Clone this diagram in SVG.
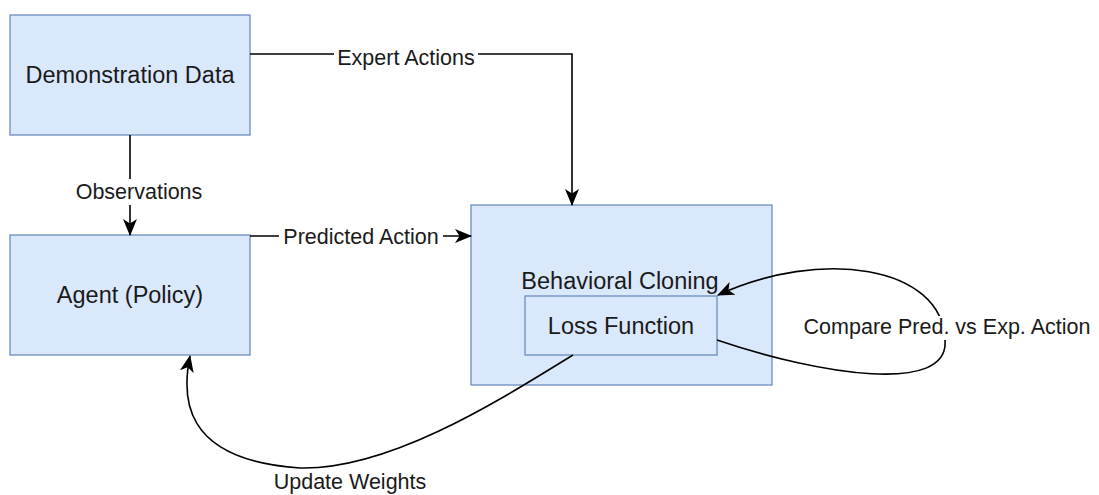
<svg xmlns="http://www.w3.org/2000/svg" width="1099" height="495" viewBox="0 0 1099 495">
  <defs>
    <marker id="arrow" markerUnits="userSpaceOnUse" markerWidth="17" markerHeight="17" viewBox="0 0 17 17" refX="16" refY="8.5" orient="auto">
      <path d="M0,1.5 L17,8.5 L0,15.5 L4.5,8.5 z" fill="#000"/>
    </marker>
    <style>
      .box { fill: #dae8fc; stroke: #6c8ebf; stroke-width: 1.3; }
      .ntext { font-family: "Liberation Sans", Arial, sans-serif; font-size: 23.5px; fill: #1a1a1a; text-anchor: middle; }
      .edge { fill: none; stroke: #000; stroke-width: 1.6; }
      .ltext { font-family: "Liberation Sans", Arial, sans-serif; font-size: 21.5px; fill: #1a1a1a; text-anchor: middle; }
      .lbg { fill: #fff; }
    </style>
  </defs>
  <rect width="1099" height="495" fill="#fff"/>

  <g id="node-demo">
    <rect class="box" x="10" y="15" width="240" height="120"/>
    <text class="ntext" x="130" y="83">Demonstration Data</text>
  </g>
  <g id="node-agent">
    <rect class="box" x="10" y="235" width="240" height="120"/>
    <text class="ntext" x="130" y="303">Agent (Policy)</text>
  </g>
  <g id="node-bc">
    <rect class="box" x="471" y="205" width="301" height="180"/>
    <text class="ntext" x="620" y="289">Behavioral Cloning</text>
  </g>
  <g id="node-loss">
    <rect class="box" x="525" y="296" width="192" height="59"/>
    <text class="ntext" x="621" y="334">Loss Function</text>
  </g>

  <g id="connectors">
    <path class="edge" d="M250,54 H572 V205" marker-end="url(#arrow)"/>
    <path class="edge" d="M130,135 V235" marker-end="url(#arrow)"/>
    <path class="edge" d="M250,236 H471" marker-end="url(#arrow)"/>
    <path class="edge" d="M717,340 C820,375 950,395 945,340 C942,265 820,248 718,295" marker-end="url(#arrow)"/>
    <path class="edge" d="M573,355 C500,400 390,470 300,468 C180,460 182,395 190,356" marker-end="url(#arrow)"/>

    <rect class="lbg" x="334" y="44" width="144" height="26"/>
    <text class="ltext" x="406" y="65">Expert Actions</text>
    <rect class="lbg" x="74" y="179" width="130" height="26"/>
    <text class="ltext" x="139" y="199">Observations</text>
    <rect class="lbg" x="279" y="225" width="164" height="25"/>
    <text class="ltext" x="361" y="244">Predicted Action</text>
    <rect class="lbg" x="800" y="316" width="295" height="24"/>
    <text class="ltext" x="947" y="334">Compare Pred. vs Exp. Action</text>
    <text class="ltext" x="350" y="489">Update Weights</text>
  </g>
</svg>
